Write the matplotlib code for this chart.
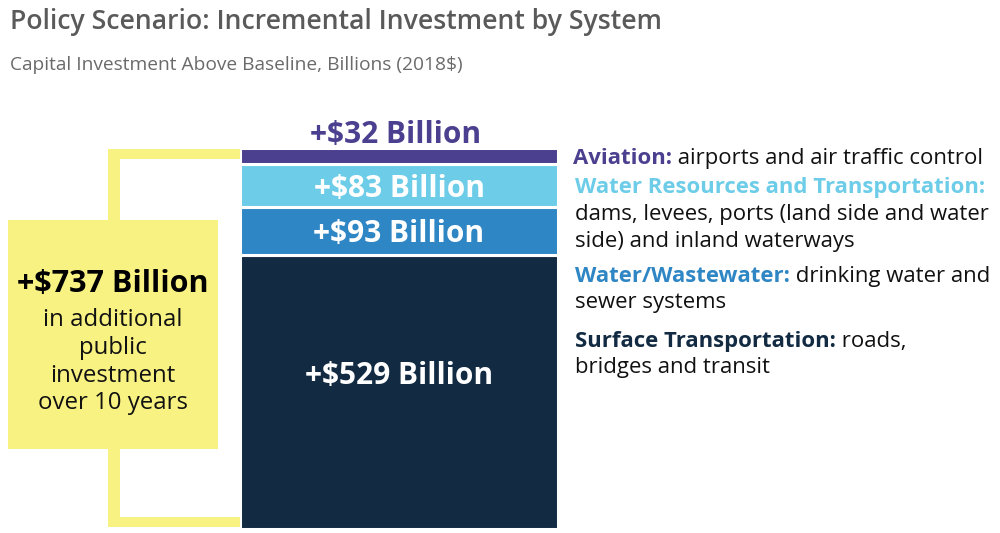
import matplotlib
matplotlib.use("Agg")
import matplotlib.pyplot as plt
from matplotlib.patches import Rectangle

plt.rcParams['font.family'] = ['Open Sans', 'DejaVu Sans']

# ---- data ----
systems = ["Surface Transportation", "Water/Wastewater",
           "Water Resources and Transportation", "Aviation"]
values = [529, 93, 83, 32]
colors = ["#122b42", "#2e86c4", "#6dcde8", "#4b3f8f"]
total_value = 737
title = "Policy Scenario: Incremental Investment by System"
subtitle = "Capital Investment Above Baseline, Billions (2018$)"

W, H = 1000, 533
fig = plt.figure(figsize=(10, 5.33), dpi=100)

# overlay axes in pixel coordinates for annotations
ov = fig.add_axes([0, 0, 1, 1])
ov.set_xlim(0, W)
ov.set_ylim(H, 0)
ov.axis('off')

# bar axes: x 241-557 px, value 0 at y=527, total at y=149
bx0, bx1, by_bot, by_top = 240, 558, 528.5, 147.5
bar_ax = fig.add_axes([bx0 / W, (H - by_bot) / H, (bx1 - bx0) / W, (by_bot - by_top) / H])
bar_ax.set_xlim(-0.5, 0.5)
bar_ax.set_ylim(0, total_value)
bar_ax.axis('off')
bar_ax.set_zorder(2)

bottom = 0
for v, c in zip(values, colors):
    bar_ax.bar(0, v, bottom=bottom, width=1.0, color=c, edgecolor='white', linewidth=2.2)
    bottom += v

# segment labels
bottoms = [sum(values[:i]) for i in range(len(values))]
lbl_kw = dict(ha='center', va='center_baseline', fontsize=21.5, fontweight='bold', color='white')
bar_ax.text(0, bottoms[0] + values[0] * 0.57, f"+${values[0]} Billion", **lbl_kw)
bar_ax.text(0, bottoms[1] + values[1] * 0.5, f"+${values[1]} Billion", **lbl_kw)
bar_ax.text(0, bottoms[2] + values[2] * 0.5, f"+${values[2]} Billion", **lbl_kw)
ov.text(396, 135, f"+${values[3]} Billion", ha='center', va='center',
        fontsize=21.5, fontweight='bold', color=colors[3])

# yellow bracket
yellow = "#f8f282"
ov.add_patch(Rectangle((108, 149), 12, 378, color=yellow, lw=0, zorder=1))
ov.add_patch(Rectangle((108, 149), 132, 10, color=yellow, lw=0, zorder=1))
ov.add_patch(Rectangle((108, 517), 132, 10, color=yellow, lw=0, zorder=1))
ov.add_patch(Rectangle((8, 220), 210, 229, color=yellow, lw=0, zorder=1))

ov.text(113, 283.5, f"+${total_value} Billion", ha='center', va='center',
        fontsize=22, fontweight='bold', color='black', zorder=3)
for i, line in enumerate(["in additional", "public", "investment", "over 10 years"]):
    ov.text(113, 320.5 + i * 27.5, line, ha='center', va='center',
            fontsize=17.3, color='#111111', zorder=3)

# titles
ov.text(10, 22, title, ha='left', va='center', fontsize=19.2, fontweight='semibold', color='#5a5a5a')
ov.text(10, 65, subtitle, ha='left', va='center', fontsize=13.8, color='#6a6a6a')

# legend descriptions
desc_fs = 15.9


def mixed(x, y, head, rest, color):
    t = ov.text(x, y, head, ha='left', va='center', fontsize=desc_fs,
                fontweight='bold', color=color)
    if rest:
        ov.annotate(rest, xy=(1, 0), xycoords=t, ha='left', va='bottom',
                    fontsize=desc_fs, color='#111111')


dy = 2.5
mixed(573, 156 + dy, systems[3] + ":", " airports and air traffic control", colors[3])
mixed(575, 185 + dy, systems[2] + ":", "", colors[2])
ov.text(575, 212 + dy, "dams, levees, ports (land side and water", ha='left', va='center',
        fontsize=desc_fs, color='#111111')
ov.text(575, 239 + dy, "side) and inland waterways", ha='left', va='center',
        fontsize=desc_fs, color='#111111')
mixed(575, 274 + dy, systems[1] + ":", " drinking water and", colors[1])
ov.text(575, 300 + dy, "sewer systems", ha='left', va='center', fontsize=desc_fs, color='#111111')
mixed(575, 339 + dy, systems[0] + ":", " roads,", colors[0])
ov.text(575, 365 + dy, "bridges and transit", ha='left', va='center', fontsize=desc_fs, color='#111111')

fig.savefig("out.png", dpi=100)
